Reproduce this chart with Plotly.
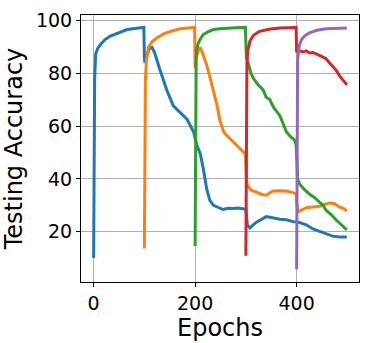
import plotly.graph_objects as go

# Task 1 (blue)
ep_t1 = [0, 1, 2, 4, 8, 14, 22, 33, 50, 66, 85, 99, 100, 101, 105, 110, 115, 120, 131, 144, 157, 171, 184, 197,
         200, 203, 210, 216, 223, 229, 236, 243, 255, 265, 275, 285, 295, 300, 303, 308, 320, 340, 355, 367, 380,
         393, 405, 419, 432, 445, 458, 471, 484, 499]
acc_t1 = [10, 60, 78, 87.4, 89.5, 91.1, 92.8, 94.2, 95.6, 96.7, 97.2, 97.5, 86, 84, 87, 89.5, 89.9, 88, 81.2, 73.8,
          67.7, 65.2, 62.7, 57.8, 55, 52.9, 49.6, 44, 36, 31.9, 30, 29.4, 28.4, 28.9, 28.8, 29, 28.8, 28.5, 22.5,
          21.4, 23.5, 25.7, 25.2, 24.7, 24.5, 23.8, 23.5, 22.6, 21, 20.1, 19.2, 18.3, 18, 18]

# Task 2 (orange)
ep_t2 = [100, 101, 102, 104, 108, 115, 125, 138, 151, 170, 185, 199, 200, 202, 206, 210, 216, 223, 230, 236, 243,
         249, 256, 262, 269, 275, 285, 295, 299, 300, 302, 305, 312, 321, 330, 340, 347, 353, 365, 379, 390, 399,
         400, 403, 410, 419, 432, 445, 455, 465, 475, 484, 492, 499]
acc_t2 = [13.6, 60, 77.5, 85, 89.9, 92, 93.6, 95, 96, 97, 97.3, 97.5, 82, 86, 88.5, 89.9, 87, 83, 78, 73.8, 68,
          62, 58, 56.6, 55.3, 54.1, 52, 50.4, 49.5, 45, 38, 37, 35.5, 35, 34.2, 33.8, 34.5, 35.4, 35.5, 35.4, 35,
          34.3, 31, 27.5, 28.2, 29.1, 29.4, 29.6, 30.3, 30.9, 30.6, 29.4, 28.8, 27.9]

# Task 3 (green)
ep_t3 = [200, 201, 202, 203, 206, 210, 216, 225, 236, 249, 265, 280, 299, 300, 301, 305, 310, 315, 325, 334, 340,
         347, 355, 367, 374, 380, 388, 396, 399, 400, 402, 406, 415, 425, 435, 445, 452, 458, 468, 478, 488, 499]
acc_t3 = [14.6, 70, 85, 89, 91.5, 93, 94.8, 95.8, 96.7, 97, 97.3, 97.4, 97.5, 90, 86, 83.7, 80, 78.1, 75.5, 73.8,
          71, 70.1, 67, 64, 60.5, 57.8, 56, 54.7, 53, 45, 40, 38.1, 36, 34.3, 33, 31.2, 30, 28.1, 26.5, 24.4, 22.5,
          20.7]

# Task 4 (red)
ep_t4 = [300, 301, 302, 304, 308, 315, 327, 345, 367, 385, 399, 400, 403, 406, 412, 419, 425, 432, 438, 445, 452,
         458, 465, 472, 478, 485, 491, 499]
acc_t4 = [10.9, 70, 83.7, 89, 92.3, 94.5, 96, 96.8, 97.3, 97.4, 97.5, 88, 88.8, 88.6, 88.2, 88.6, 87.8, 88, 87.6,
          86.9, 86.2, 85.6, 84, 82.6, 81.2, 79, 77.5, 75.7]

# Task 5 (purple)
ep_t5 = [400, 401, 402, 404, 406, 410, 416, 425, 440, 458, 478, 499]
acc_t5 = [5.7, 75, 85, 89, 91.1, 93, 94.3, 95.4, 96.4, 97, 97.2, 97.3]

x_ticks = [0, 200, 400]
y_ticks = [20, 40, 60, 80, 100]

series = [(ep_t1, acc_t1, "#1f77b4"), (ep_t2, acc_t2, "#ff7f0e"), (ep_t3, acc_t3, "#2ca02c"),
          (ep_t4, acc_t4, "#d62728"), (ep_t5, acc_t5, "#9467bd")]

fig = go.Figure()
for ex, ey, col in series:
    fig.add_trace(go.Scatter(x=ex, y=ey, mode="lines", line=dict(color=col, width=3), showlegend=False))

font = dict(family="DejaVu Sans", color="black")
fig.update_layout(
    width=370, height=343,
    margin=dict(l=81, r=10, t=10, b=61),
    paper_bgcolor="white", plot_bgcolor="white",
    font=font,
    xaxis=dict(range=[-24.9, 522.9], tickvals=x_ticks, tickfont=dict(size=19),
               showgrid=True, gridcolor="#b0b0b0", gridwidth=0.8, zeroline=False,
               showline=True, linecolor="black", linewidth=1, mirror=True,
               ticks="outside", ticklen=4, tickcolor="black",
               title=dict(text="Epochs", font=dict(size=24), standoff=0)),
    yaxis=dict(range=[0.9, 102.2], tickvals=y_ticks, tickfont=dict(size=19),
               showgrid=True, gridcolor="#b0b0b0", gridwidth=0.8, zeroline=False,
               showline=True, linecolor="black", linewidth=1, mirror=True,
               ticks="outside", ticklen=4, tickcolor="black",
               title=dict(text="Testing Accuracy", font=dict(size=24), standoff=6)),
)
fig.write_html("out.html")
